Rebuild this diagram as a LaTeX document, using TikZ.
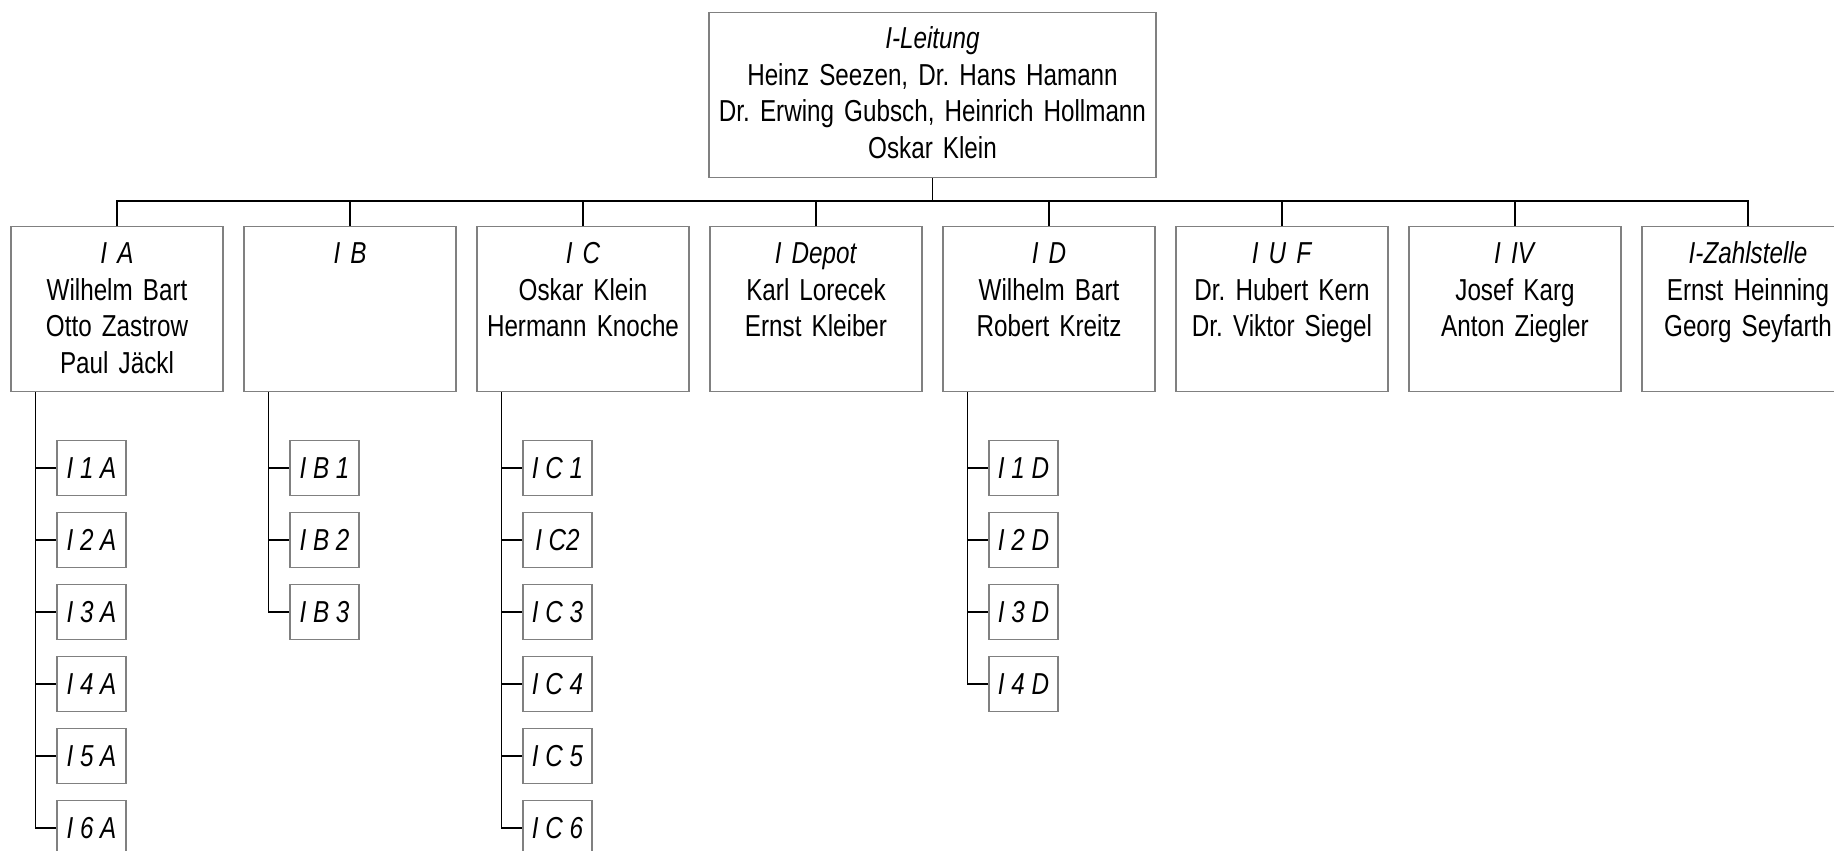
\documentclass[tikz,border=0pt]{standalone}
\usepackage{fontspec}
\setmainfont[FakeStretch=0.80]{Liberation Sans}
\usetikzlibrary{positioning}
\definecolor{boxgray}{RGB}{128,128,128}
\frenchspacing

\begin{document}
\begin{tikzpicture}[x=1pt, y=-1pt,
  every node/.style={font=\fontsize{30.3pt}{36.5pt}\selectfont},
  unit/.style={draw=boxgray, line width=1.3pt, anchor=north, inner sep=0pt,
    text width=212pt, align=center, text height=37pt, text depth=128pt},
  head/.style={unit, text width=447pt, text height=36pt, text depth=129pt},
  sub/.style={draw=boxgray, line width=1.3pt, inner sep=0pt, minimum width=69pt,
    minimum height=55pt, font=\fontsize{30.3pt}{36.5pt}\selectfont\itshape},
  link/.style={line width=1.6pt}]
  \useasboundingbox (0,0) rectangle (1834,851);

  % head office
  \node[head] (lt) at (932.5,12) {\textit{I-Leitung}\\Heinz Seezen, Dr. Hans Hamann\\Dr. Erwing Gubsch, Heinrich Hollmann\\Oskar Klein};

  % groups
  \node[unit] (ia) at (117,226) {\textit{I A}\\Wilhelm Bart\\Otto Zastrow\\Paul Jäckl};
  \node[unit] (ib) at (350,226) {\textit{I B}};
  \node[unit] (ic) at (583,226) {\textit{I C}\\Oskar Klein\\Hermann Knoche};
  \node[unit] (idp) at (816,226) {\textit{I Depot}\\Karl Lorecek\\Ernst Kleiber};
  \node[unit] (id) at (1049,226) {\textit{I D}\\Wilhelm Bart\\Robert Kreitz};
  \node[unit] (iuf) at (1282,226) {\textit{I U F}\\Dr. Hubert Kern\\Dr. Viktor Siegel};
  \node[unit] (iiv) at (1515,226) {\textit{I IV}\\Josef Karg\\Anton Ziegler};
  \node[unit] (izs) at (1748,226) {\textit{I-Zahlstelle}\\Ernst Heinning\\Georg Seyfarth};

  \coordinate (bus) at (932.5,201);
  \draw[link] (lt.south) -- (bus);
  \draw[link] (ia.north) |- (bus) -| (izs.north);
  \foreach \u in {ib,ic,idp,id,iuf,iiv}
    \draw[link] (\u.north) -- (\u.north |- bus);

  % sections of I A
  \node[sub] (ia1) at (91.5,468) {I 1 A};
  \node[sub] (ia2) at (91.5,540) {I 2 A};
  \node[sub] (ia3) at (91.5,612) {I 3 A};
  \node[sub] (ia4) at (91.5,684) {I 4 A};
  \node[sub] (ia5) at (91.5,756) {I 5 A};
  \node[sub] (ia6) at (91.5,828) {I 6 A};

  % sections of I B
  \node[sub] (ib1) at (324.5,468) {I B 1};
  \node[sub] (ib2) at (324.5,540) {I B 2};
  \node[sub] (ib3) at (324.5,612) {I B 3};

  % sections of I C
  \node[sub] (ic1) at (557.5,468) {I C 1};
  \node[sub] (ic2) at (557.5,540) {I C2};
  \node[sub] (ic3) at (557.5,612) {I C 3};
  \node[sub] (ic4) at (557.5,684) {I C 4};
  \node[sub] (ic5) at (557.5,756) {I C 5};
  \node[sub] (ic6) at (557.5,828) {I C 6};

  % sections of I D
  \node[sub] (id1) at (1023.5,468) {I 1 D};
  \node[sub] (id2) at (1023.5,540) {I 2 D};
  \node[sub] (id3) at (1023.5,612) {I 3 D};
  \node[sub] (id4) at (1023.5,684) {I 4 D};

  \coordinate (ia-trunk) at ([xshift=25pt]ia.south west);
  \coordinate (ib-trunk) at ([xshift=25pt]ib.south west);
  \coordinate (ic-trunk) at ([xshift=25pt]ic.south west);
  \coordinate (id-trunk) at ([xshift=25pt]id.south west);
  \foreach \i in {1,...,6} {
    \draw[link] (ia-trunk) |- (ia\i.west);
    \draw[link] (ic-trunk) |- (ic\i.west);
  }
  \foreach \i in {1,2,3}
    \draw[link] (ib-trunk) |- (ib\i.west);
  \foreach \i in {1,...,4}
    \draw[link] (id-trunk) |- (id\i.west);
\end{tikzpicture}
\end{document}
